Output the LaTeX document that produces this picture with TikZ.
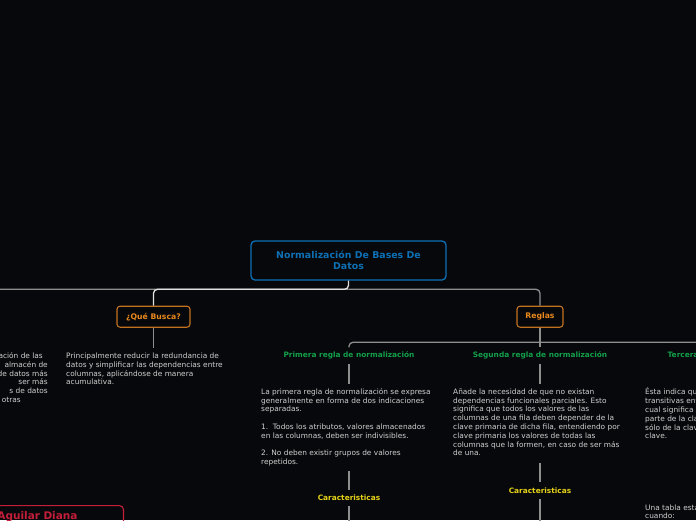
\documentclass[tikz,border=0pt]{standalone}
\usepackage{fontspec}
\setmainfont{DejaVu Sans}
\definecolor{mapbg}{HTML}{07080B}
\definecolor{linegray}{HTML}{8E8E8E}
\definecolor{wirewhite}{HTML}{E2E2E2}
\definecolor{rootblue}{HTML}{0E70B4}
\definecolor{subbrown}{HTML}{C2711F}
\definecolor{suborange}{HTML}{E8881C}
\definecolor{rulegreen}{HTML}{12A04A}
\definecolor{caryellow}{HTML}{E6D318}
\definecolor{namered}{HTML}{C41E3A}
\definecolor{bodygray}{HTML}{D0D0D0}
\newcommand{\bodysize}{\fontsize{7.4}{8.8}\selectfont}

\begin{document}
\begin{tikzpicture}[x=1pt,y=-1pt,
  wire/.style={draw=linegray, line width=1.3pt, rounded corners=4pt},
  mainwire/.style={wire, draw=wirewhite},
  topicbox/.style={draw=rootblue, line width=1.3pt, rounded corners=4pt, text=rootblue, font=\fontsize{9.4}{11}\selectfont\bfseries, align=center, minimum width=195pt, minimum height=39pt, inner sep=0pt},
  subbox/.style={draw=subbrown, line width=1.1pt, rounded corners=3pt, text=suborange, font=\fontsize{7.7}{9}\selectfont\bfseries, minimum height=21pt, inner sep=0pt},
  rulehead/.style={text=rulegreen, font=\fontsize{7.4}{9}\selectfont\bfseries, minimum height=16pt, inner sep=0pt},
  carhead/.style={text=caryellow, font=\fontsize{7.4}{9}\selectfont\bfseries, minimum height=16pt, inner sep=0pt},
  bodytxt/.style={text=bodygray, font=\bodysize, align=left, inner xsep=0pt, inner ysep=3.9pt},
  namebox/.style={draw=namered, line width=1.1pt, rounded corners=4pt, text=namered, font=\fontsize{10.5}{12.5}\selectfont\bfseries, text width=122pt, align=left, inner xsep=4pt, inner ysep=6pt}]
\useasboundingbox (0,0) rectangle (696,520);
\fill[mapbg] (0,0) rectangle (696,520);

% central topic
\node[topicbox] (root) at (348.5,260.5) {Normalización De Bases De\\Datos};
\coordinate (hub) at (348.5,289.3);
\coordinate (leftoff) at (-40,330);

% main branches
\node[subbox, minimum width=73pt] (busca) at (153.5,316.7) {¿Qué Busca?};
\node[subbox, minimum width=46pt] (reglas) at (540,316.7) {Reglas};
\draw[wire] (hub) -| (leftoff);
\draw[mainwire] (root.south) -- (hub) -| (busca.north);
\draw[wire] (hub) -| (reglas.north);

% texts under the left branches
\node[bodytxt, align=right, anchor=north east] (leftxt) at (48,348.2) {\strut ación de las\hspace*{5pt}\\almacén de\hspace*{2pt}\\de datos más\\ser más\hspace*{16pt}\\s de datos\hspace*{9pt}\\otras\hspace*{27pt}};
\node[bodytxt, anchor=north west] (buscatxt) at (66,348.2) {\strut Principalmente reducir la redundancia de\\datos y simplificar las dependencias entre\\columnas, aplicándose de manera\\acumulativa.\strut};
\draw[wire] (busca.south) -- (busca.south |- buscatxt.north);

% the three rules
\coordinate (rhub) at (540,342.3);
\node[rulehead] (primera) at (349,355.5) {Primera regla de normalización};
\node[rulehead] (segunda) at (540,355.5) {Segunda regla de normalización};
\node[rulehead] (tercera) at (732,355.5) {Tercera regla de normalización};
\draw[wire] (reglas.south) -- (rhub);
\draw[wire] (rhub) -| (primera.north);
\draw[wire] (rhub) -- (segunda.north);
\draw[wire] (rhub) -| (tercera.north);

\node[bodytxt, anchor=north west] (primeratxt) at (261,384) {\strut La primera regla de normalización se expresa\\generalmente en forma de dos indicaciones\\separadas.\\[8.8pt]1.\ \ Todos los atributos, valores almacenados\\en las columnas, deben ser indivisibles.\\[8.8pt]2. No deben existir grupos de valores\\repetidos.\strut};
\node[bodytxt, anchor=north west] (segundatxt) at (453,384) {\strut Añade la necesidad de que no existan\\dependencias funcionales parciales. Esto\\significa que todos los valores de las\\columnas de una fila deben depender de la\\clave primaria de dicha fila, entendiendo por\\clave primaria los valores de todas las\\columnas que la formen, en caso de ser más\\de una.\strut};
\node[bodytxt, anchor=north west] (terceratxt) at (645,384) {\strut Ésta indica que no deben existir dependencias\\transitivas entre columnas de una tabla, lo\\cual significa que las columnas que no forman\\parte de la clave primaria deben depender\\sólo de la clave, nunca de otra columna no\\clave.\strut};
\node[bodytxt, anchor=north west] (tablatxt) at (645,499.9) {\strut Una tabla está en tercera forma normal\\cuando:\strut};
\draw[wire] (primera.south) -- (primera.south |- primeratxt.north);
\draw[wire] (segunda.south) -- (segunda.south |- segundatxt.north);
\draw[wire] (tercera.south) -- (tercera.south |- terceratxt.north);

% characteristics
\node[carhead] (primcar) at (349,498) {Caracteristicas};
\node[carhead] (segcar) at (540,490.5) {Caracteristicas};
\coordinate (primend) at (349,530);
\coordinate (segend) at (540,530);
\draw[wire] (primcar.north |- primeratxt.south) -- (primcar.north);
\draw[wire] (segcar.north |- segundatxt.south) -- (segcar.north);
\draw[wire] (primcar.south) -- (primend);
\draw[wire] (segcar.south) -- (segend);

% author
\node[namebox, anchor=north east] (author) at (124,505) {Aguilar Diana};
\end{tikzpicture}
\end{document}
